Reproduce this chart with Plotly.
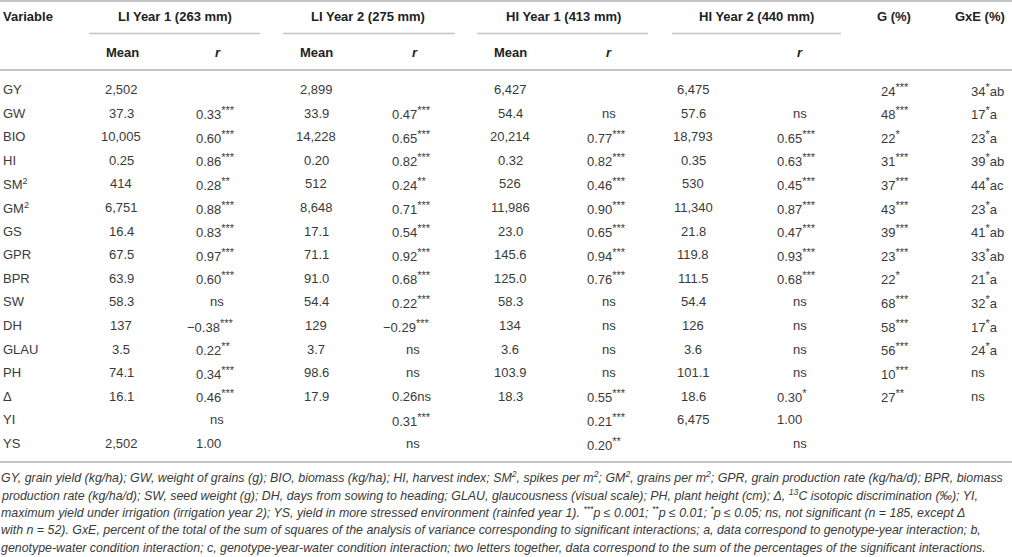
import plotly.graph_objects as go

# ---------------- data ----------------
variables = ["GY", "GW", "BIO", "HI", "SM<sup>2</sup>", "GM<sup>2</sup>", "GS", "GPR", "BPR",
             "SW", "DH", "GLAU", "PH", "Δ", "YI", "YS"]

li1_mean = ["2,502", "37.3", "10,005", "0.25", "414", "6,751", "16.4", "67.5", "63.9",
            "58.3", "137", "3.5", "74.1", "16.1", "", "2,502"]
li1_r = ["", "0.33***", "0.60***", "0.86***", "0.28**", "0.88***", "0.83***", "0.97***", "0.60***",
         "ns", "−0.38***", "0.22**", "0.34***", "0.46***", "ns", "1.00"]
li2_mean = ["2,899", "33.9", "14,228", "0.20", "512", "8,648", "17.1", "71.1", "91.0",
            "54.4", "129", "3.7", "98.6", "17.9", "", ""]
li2_r = ["", "0.47***", "0.65***", "0.82***", "0.24**", "0.71***", "0.54***", "0.92***", "0.68***",
         "0.22***", "−0.29***", "ns", "ns", "0.26ns", "0.31***", "ns"]
hi1_mean = ["6,427", "54.4", "20,214", "0.32", "526", "11,986", "23.0", "145.6", "125.0",
            "58.3", "134", "3.6", "103.9", "18.3", "", ""]
hi1_r = ["", "ns", "0.77***", "0.82***", "0.46***", "0.90***", "0.65***", "0.94***", "0.76***",
         "ns", "ns", "ns", "ns", "0.55***", "0.21***", "0.20**"]
hi2_mean = ["6,475", "57.6", "18,793", "0.35", "530", "11,340", "21.8", "119.8", "111.5",
            "54.4", "126", "3.6", "101.1", "18.6", "6,475", ""]
hi2_r = ["", "ns", "0.65***", "0.63***", "0.45***", "0.87***", "0.47***", "0.93***", "0.68***",
         "ns", "ns", "ns", "ns", "0.30*", "1.00", "ns"]
g_pct = ["24***", "48***", "22*", "31***", "37***", "43***", "39***", "23***", "22*",
         "68***", "58***", "56***", "10***", "27**", "", ""]
gxe_pct = ["34*ab", "17*a", "23*a", "39*ab", "44*ac", "23*a", "41*ab", "33*ab", "21*a",
           "32*a", "17*a", "24*a", "ns", "ns", "", ""]

group_labels = ["LI Year 1 (263 mm)", "LI Year 2 (275 mm)", "HI Year 1 (413 mm)", "HI Year 2 (440 mm)"]
sub_labels = ["Mean", "<i>r</i>", "Mean", "<i>r</i>", "Mean", "<i>r</i>", "", "<i>r</i>"]
extra_headers = ["G (%)", "GxE (%)"]

caption_lines = [
    "GY, grain yield (kg/ha); GW, weight of grains (g); BIO, biomass (kg/ha); HI, harvest index; SM<sup>2</sup>, spikes per m<sup>2</sup>; GM<sup>2</sup>, grains per m<sup>2</sup>; GPR, grain production rate (kg/ha/d); BPR, biomass",
    "production rate (kg/ha/d); SW, seed weight (g); DH, days from sowing to heading; GLAU, glaucousness (visual scale); PH, plant height (cm); Δ, <sup>13</sup>C isotopic discrimination (‰); YI,",
    "maximum yield under irrigation (irrigation year 2); YS, yield in more stressed environment (rainfed year 1). <sup>***</sup>p ≤ 0.001; <sup>**</sup>p ≤ 0.01; <sup>*</sup>p ≤ 0.05; ns, not significant (n = 185, except Δ",
    "with n = 52). GxE, percent of the total of the sum of squares of the analysis of variance corresponding to significant interactions; a, data correspond to genotype-year interaction; b,",
    "genotype-water condition interaction; c, genotype-year-water condition interaction; two letters together, data correspond to the sum of the percentages of the significant interactions.",
]

# ---------------- layout constants ----------------
W, H = 1012, 557
FONT = "Liberation Sans, Arial, Helvetica, sans-serif"
TXT = "#3a3a3a"
HDR = "#222222"
RULE = "#c4c4c4"
FS = 13
CAP_FS = 12.4
STAR_FS = 11

y_head = 16
y_gline = 33.5
y_sub = 52
y_rule = 70
y_row0 = 89.5
row_step = 23.6
y_bottom = 462
y_cap0 = 477
cap_step = 17.7

group_centers = [175, 368, 563, 756]
group_spans = [(89, 260), (283, 455), (477, 648), (672, 841)]
sub_x = [122, 218, 316, 415, 510, 609, 693, 800]
mean_x = [121, 316, 510, 693]
r_start_x = [195, 391, 586, 776]
r_ns_x = [217, 413, 609, 800]
neg_offset = 9
g_x, gxe_x = 880, 970
g_head_x, gxe_head_x = 894, 980

def sup_stars(s):
    out, i = "", 0
    while i < len(s):
        if s[i] == "*":
            j = i
            while j < len(s) and s[j] == "*":
                j += 1
            out += '<sup><span style="font-size:%dpx">%s</span></sup>' % (STAR_FS, s[i:j])
            i = j
        else:
            out += s[i]
            i += 1
    return out

ann = []

def add(x, y, text, anchor="center", bold=False, color=TXT, size=FS):
    if text == "":
        return
    t = "<b>%s</b>" % text if bold else text
    ann.append(dict(x=x, y=y, xref="x", yref="y", text=t, showarrow=False,
                    xanchor=anchor, yanchor="middle",
                    font=dict(family=FONT, size=size, color=color), borderpad=0))

# headers
add(2, y_head, "Variable", "left", True, HDR)
for c, lab in zip(group_centers, group_labels):
    add(c, y_head, lab, "center", True, HDR)
add(g_head_x, y_head, extra_headers[0], "center", True, HDR)
add(gxe_head_x, y_head, extra_headers[1], "center", True, HDR)
for x, lab in zip(sub_x, sub_labels):
    add(x, y_sub, lab, "center", True, HDR)

# body
mean_cols = [li1_mean, li2_mean, hi1_mean, hi2_mean]
r_cols = [li1_r, li2_r, hi1_r, hi2_r]
for i, v in enumerate(variables):
    y = y_row0 + i * row_step
    add(2, y, v, "left")
    for col, x in zip(mean_cols, mean_x):
        add(x, y, col[i], "center")
    for col, xs, xn in zip(r_cols, r_start_x, r_ns_x):
        s = col[i]
        if s == "":
            continue
        if s == "ns":
            add(xn, y, s, "center")
        elif s.startswith("−"):
            add(xs - neg_offset, y, sup_stars(s), "left")
        else:
            add(xs, y, sup_stars(s), "left")
    add(g_x, y, sup_stars(g_pct[i]), "left")
    add(gxe_x, y, sup_stars(gxe_pct[i]), "left")

# caption
for k, line in enumerate(caption_lines):
    add(0, y_cap0 + k * cap_step, "<i>" + line + "</i>", "left", False, TXT, CAP_FS)

shapes = []
def hline(y, x0, x1, w=1.6):
    shapes.append(dict(type="line", xref="x", yref="y", x0=x0, x1=x1, y0=y, y1=y,
                       line=dict(color=RULE, width=w)))
hline(1, 0, W, 2)
for a, b in group_spans:
    hline(y_gline, a, b, 1.6)
hline(y_rule, 0, W, 2)
hline(y_bottom, 0, W, 2)

fig = go.Figure()
fig.update_layout(
    width=W, height=H,
    margin=dict(l=0, r=0, t=0, b=0),
    paper_bgcolor="white", plot_bgcolor="white",
    xaxis=dict(range=[0, W], visible=False, fixedrange=True),
    yaxis=dict(range=[H, 0], visible=False, fixedrange=True),
    annotations=ann, shapes=shapes, showlegend=False,
)
fig.write_html("out.html", config={"displayModeBar": False},
               post_script="document.body.style.margin='0';document.body.style.overflow='hidden';")
